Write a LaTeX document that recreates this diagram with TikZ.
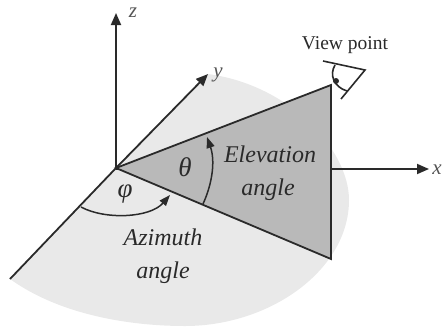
\documentclass[tikz,border=0pt]{standalone}
\usepackage{fontspec}
\setmainfont{Liberation Serif}
\usetikzlibrary{arrows.meta}
\definecolor{ink}{HTML}{2A2A2A}
\definecolor{lightfill}{HTML}{E9E9E9}
\definecolor{darkfill}{HTML}{B9B9B9}
\tikzset{
  axisline/.style={draw=ink,line width=1.8pt,-{Triangle[length=12pt,width=10pt]}},
  edgeline/.style={draw=ink,line width=1.8pt},
  anglearc/.style={draw=ink,line width=1.5pt,-{Triangle[length=11pt,width=8pt]}},
  eyeline/.style={draw=ink,line width=1.6pt},
  lbl/.style={text=ink,inner sep=0pt,font=\fontsize{24}{26}\selectfont\itshape},
  grk/.style={text=ink,inner sep=0pt,font=\fontsize{27}{29}\selectfont\itshape},
  axlbl/.style={text=ink!80,inner sep=0pt,font=\fontsize{21}{23}\selectfont\itshape}
}
\begin{document}
\begin{tikzpicture}[x=1pt,y=-1pt]
\useasboundingbox (0,0) rectangle (443,327);
\coordinate (O) at (116,168);
\coordinate (Z) at (116,13);
\coordinate (Y) at (208,74);
\coordinate (X) at (429,169);
\coordinate (L) at (10,279);
\coordinate (T) at (331,85);
\coordinate (B) at (331,259);
\fill[lightfill] (O) -- (L) .. controls (60,315) and (130,326) .. (185,326)
  .. controls (270,326) and (349,270) .. (349,200)
  .. controls (349,150) and (290,85) .. (Y) -- cycle;
\draw[axisline] (O) -- (Z);
\draw[axisline] (O) -- (Y);
\draw[axisline] (O |- X) -- (X);
\draw[edgeline,fill=darkfill] (O) -- (T) -- (B) -- cycle;
\draw[edgeline] (O) -- (L);
\draw[anglearc] (203,204) .. controls (213,182) and (215,160) .. (207,137);
\draw[anglearc] (81,207) .. controls (105,220) and (150,218) .. (170,195);
\node[axlbl] (zl) at (133,13) {z};
\node[axlbl] (yl) at (218,75) {y};
\node[axlbl] (xl) at (437,170) {x};
\node[grk] (theta) at (185,167) {θ};
\node[grk] (phi) at (125,194) {φ};
\node[lbl] (el) at (270,154) {Elevation};
\node[lbl] (ang) at (268,190) {angle};
\node[lbl] (az) at (163,237) {Azimuth};
\node[lbl] (ang2) at (163,273) {angle};
\node[text=ink,inner sep=0pt,font=\fontsize{19.5}{21}\selectfont] (vp) at (345,45) {View point};
\coordinate (E1) at (323,61);
\coordinate (E2) at (365,70);
\coordinate (E3) at (341,99);
\draw[eyeline] (E1) -- (E2) -- (E3);
\draw[eyeline] (335,65) .. controls (329,75) and (334,87) .. (347,91);
\fill[ink] (336,81) circle (3);
\end{tikzpicture}
\end{document}
